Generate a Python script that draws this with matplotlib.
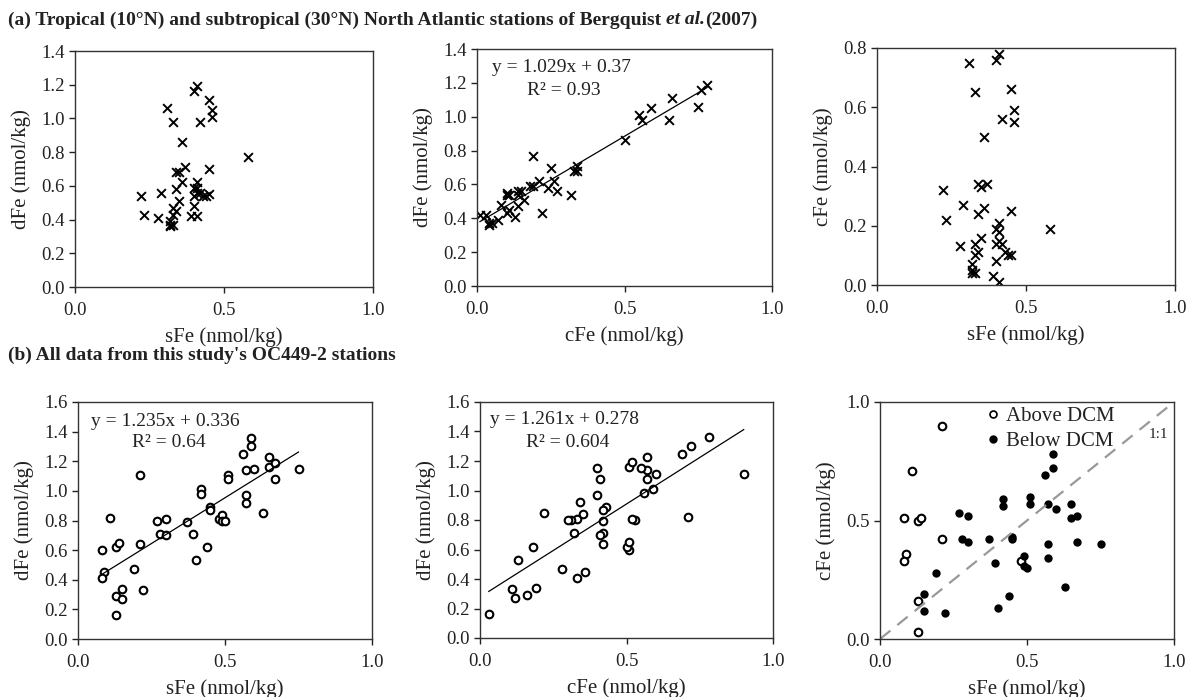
import numpy as np
import matplotlib
matplotlib.use('Agg')
import matplotlib.pyplot as plt
from matplotlib.lines import Line2D

# ---- (a) Bergquist et al. (2007) stations ----
a_sfe = [0.22, 0.23, 0.29, 0.28, 0.31, 0.33, 0.36, 0.34, 0.35, 0.37, 0.36, 0.34, 0.35, 0.33,
         0.34, 0.33, 0.32, 0.32, 0.32, 0.33, 0.40, 0.41, 0.42, 0.45, 0.46, 0.46, 0.40, 0.41,
         0.41, 0.45, 0.40, 0.41, 0.42, 0.43, 0.44, 0.45, 0.40, 0.39, 0.41, 0.58]
a_cfe = [0.32, 0.22, 0.27, 0.13, 0.75, 0.65, 0.50, 0.34, 0.33, 0.34, 0.26, 0.24, 0.16, 0.14,
         0.11, 0.10, 0.07, 0.05, 0.04, 0.04, 0.76, 0.78, 0.56, 0.66, 0.59, 0.55, 0.19, 0.21,
         0.18, 0.25, 0.14, 0.15, 0.14, 0.11, 0.10, 0.10, 0.08, 0.03, 0.01, 0.19]
a_dfe = [0.54, 0.43, 0.56, 0.41, 1.06, 0.98, 0.86, 0.68, 0.68, 0.71, 0.62, 0.58, 0.51, 0.47,
         0.45, 0.43, 0.39, 0.37, 0.36, 0.37, 1.16, 1.19, 0.98, 1.11, 1.05, 1.01, 0.59, 0.62,
         0.59, 0.70, 0.54, 0.56, 0.56, 0.54, 0.54, 0.55, 0.48, 0.42, 0.42, 0.77]
a_fit = (1.029, 0.37)

# ---- (b) OC449-2 stations ----
above_sfe = [0.21, 0.11, 0.08, 0.13, 0.14, 0.21, 0.09, 0.08, 0.13, 0.13, 0.48]
above_cfe = [0.90, 0.71, 0.51, 0.50, 0.51, 0.42, 0.36, 0.33, 0.16, 0.03, 0.33]
above_dfe = [1.11, 0.82, 0.60, 0.62, 0.65, 0.64, 0.45, 0.41, 0.29, 0.16, 0.81]

below_sfe = [0.59, 0.59, 0.56, 0.51, 0.51, 0.42, 0.42, 0.27, 0.30, 0.28, 0.30, 0.37, 0.45,
             0.45, 0.39, 0.49, 0.49, 0.50, 0.57, 0.60, 0.57, 0.57, 0.65, 0.65, 0.67, 0.67,
             0.75, 0.63, 0.19, 0.15, 0.15, 0.22, 0.40, 0.44]
below_cfe = [0.78, 0.72, 0.69, 0.60, 0.57, 0.59, 0.56, 0.53, 0.52, 0.42, 0.41, 0.42, 0.43,
             0.42, 0.32, 0.35, 0.31, 0.30, 0.57, 0.55, 0.40, 0.34, 0.57, 0.51, 0.52, 0.41,
             0.40, 0.22, 0.28, 0.19, 0.12, 0.11, 0.13, 0.18]
below_dfe = [1.36, 1.30, 1.25, 1.11, 1.08, 1.01, 0.98, 0.80, 0.81, 0.71, 0.70, 0.79, 0.89,
             0.87, 0.71, 0.84, 0.80, 0.80, 1.14, 1.15, 0.97, 0.92, 1.23, 1.16, 1.19, 1.08,
             1.15, 0.85, 0.47, 0.34, 0.27, 0.33, 0.53, 0.62]
b1_fit = (1.235, 0.336)
b2_fit = (1.261, 0.278)

plt.rcParams['font.family'] = ['Liberation Serif', 'DejaVu Serif']

W, H = 1189, 697
fig = plt.figure(figsize=(W / 100, H / 100), dpi=100)
TXT = '#222222'


def make_ax(x0, y0, x1, y1):
    # pixel box (left, top, right, bottom) -> axes
    return fig.add_axes([x0 / W, 1 - y1 / H, (x1 - x0) / W, (y1 - y0) / H])


def style(ax, ymax, ystep, xlabel, ylabel):
    ax.set_xlim(0, 1.0)
    ax.set_ylim(0, ymax)
    ax.set_xticks([0, 0.5, 1.0])
    ax.set_yticks(np.arange(0, ymax + 1e-9, ystep))
    ax.xaxis.set_major_formatter(matplotlib.ticker.FormatStrFormatter('%.1f'))
    ax.yaxis.set_major_formatter(matplotlib.ticker.FormatStrFormatter('%.1f'))
    ax.tick_params(direction='out', length=4, width=1, labelsize=13.5, colors=TXT)
    ax.tick_params(axis='x', pad=7)
    for s in ax.spines.values():
        s.set_color('#333333')
        s.set_linewidth(1.0)
    ax.set_xlabel(xlabel, fontsize=15, color=TXT, labelpad=6)
    ax.set_ylabel(ylabel, fontsize=15, color=TXT, labelpad=7)


def fit_line(ax, x, coef):
    xs = np.array([min(x), max(x)])
    ax.plot(xs, coef[0] * xs + coef[1], color='black', lw=0.9)


def eq_text(ax, eq, r2, x1, y1, x2, y2):
    ax.text(x1, y1, eq, transform=ax.transAxes, ha='center', va='center', fontsize=14, color=TXT)
    ax.text(x2, y2, r2, transform=ax.transAxes, ha='center', va='center', fontsize=14, color=TXT)


xkw = dict(marker='x', s=40, color='black', linewidths=1.4)
okw = dict(marker='o', s=30, facecolors='white', edgecolors='black', linewidths=1.5)
fkw = dict(marker='o', s=36, color='black', linewidths=0)

# row (a)
ax1 = make_ax(75, 51, 373, 287)
ax1.scatter(a_sfe, a_dfe, **xkw)
style(ax1, 1.4, 0.2, 'sFe (nmol/kg)', 'dFe (nmol/kg)')

ax2 = make_ax(477, 49, 772, 286)
ax2.scatter(a_cfe, a_dfe, **xkw)
fit_line(ax2, a_cfe, a_fit)
eq_text(ax2, 'y = 1.029x + 0.37', 'R² = 0.93', 0.285, 0.92, 0.295, 0.827)
style(ax2, 1.4, 0.2, 'cFe (nmol/kg)', 'dFe (nmol/kg)')

ax3 = make_ax(877, 48, 1175, 285)
ax3.scatter(a_sfe, a_cfe, **xkw)
style(ax3, 0.8, 0.2, 'sFe (nmol/kg)', 'cFe (nmol/kg)')

# row (b)
b_sfe = above_sfe + below_sfe
b_cfe = above_cfe + below_cfe
b_dfe = above_dfe + below_dfe

ax4 = make_ax(78, 402, 372, 639)
ax4.scatter(b_sfe, b_dfe, **okw)
fit_line(ax4, b_sfe, b1_fit)
eq_text(ax4, 'y = 1.235x + 0.336', 'R² = 0.64', 0.296, 0.916, 0.31, 0.831)
style(ax4, 1.6, 0.2, 'sFe (nmol/kg)', 'dFe (nmol/kg)')

ax5 = make_ax(480, 402, 773, 638)
ax5.scatter(b_cfe, b_dfe, **okw)
fit_line(ax5, b_cfe, b2_fit)
eq_text(ax5, 'y = 1.261x + 0.278', 'R² = 0.604', 0.29, 0.924, 0.30, 0.83)
style(ax5, 1.6, 0.2, 'cFe (nmol/kg)', 'dFe (nmol/kg)')

ax6 = make_ax(880, 402, 1174, 639)
ax6.plot([0, 0.98], [0, 0.98], color='#999999', lw=1.6, dashes=(6, 4))
ax6.scatter(above_sfe, above_cfe, **okw)
ax6.scatter(below_sfe, below_cfe, **fkw)
ax6.text(0.947, 0.862, '1:1', fontsize=11, ha='center', va='center', color=TXT)
style(ax6, 1.0, 0.5, 'sFe (nmol/kg)', 'cFe (nmol/kg)')
handles = [Line2D([], [], ls='none', marker='o', ms=5, mfc='white', mec='black', mew=1.2),
           Line2D([], [], ls='none', marker='o', ms=5, color='black')]
ax6.legend(handles, ['Above DCM', 'Below DCM'], loc='upper left', bbox_to_anchor=(0.30, 1.06),
           frameon=False, fontsize=15, handlelength=0.6, handletextpad=0.3, labelspacing=0.25,
           labelcolor=TXT)

# panel titles (bold, with italic "et al.")
fig.canvas.draw()
r = fig.canvas.get_renderer()
tkw = dict(fontsize=14, fontweight='bold', va='center', color=TXT)
t = fig.text(8 / W, 1 - 20 / H, '(a) Tropical (10°N) and subtropical (30°N) North Atlantic stations of Bergquist ', **tkw)
bb = t.get_window_extent(r)
t2 = fig.text(bb.x1 / W, 1 - 20 / H, 'et al.', style='italic', **tkw)
bb2 = t2.get_window_extent(r)
fig.text(bb2.x1 / W, 1 - 20 / H, '(2007)', **tkw)
fig.text(8 / W, 1 - 355 / H, "(b) All data from this study's OC449-2 stations", **tkw)

fig.savefig('out.png', dpi=100)
